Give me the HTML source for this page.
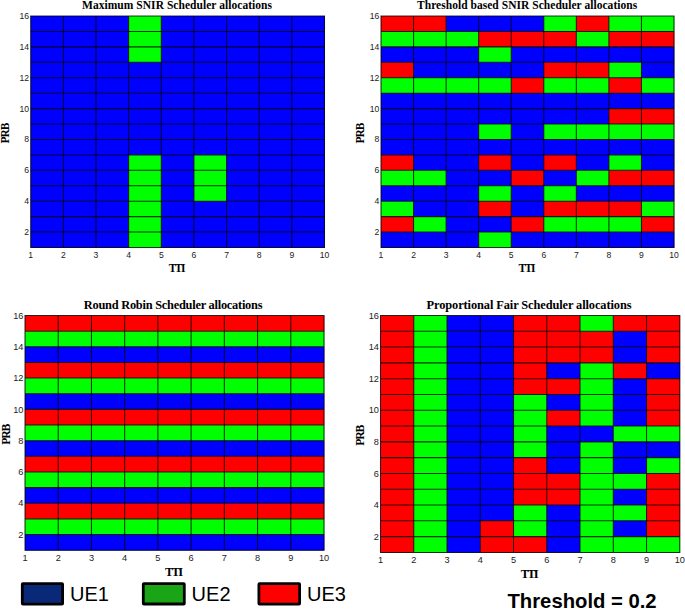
<!DOCTYPE html>
<html><head><meta charset="utf-8"><title>Scheduler allocations</title>
<style>
html,body{margin:0;padding:0;background:#fff;}
svg{display:block;}
.tk{font-family:"Liberation Sans",Arial,Helvetica,sans-serif;fill:#222;}
.ti{font-family:"Liberation Serif","Times New Roman",serif;font-weight:bold;fill:#000;}
.ax{font-family:"Liberation Serif","Times New Roman",serif;font-weight:bold;fill:#000;}
.lg{font-family:"Liberation Sans",Arial,Helvetica,sans-serif;font-size:20px;fill:#000;}
.th{font-family:"Liberation Sans",Arial,Helvetica,sans-serif;font-size:20.25px;font-weight:bold;fill:#000;}
</style></head><body>
<svg width="685" height="612" viewBox="0 0 685 612">
<rect x="0" y="0" width="685" height="612" fill="#ffffff"/>

<g>
<rect x="30.70" y="16.00" width="98.23" height="15.73" fill="#0000ff"/>
<rect x="128.63" y="16.00" width="32.94" height="15.73" fill="#00ff00"/>
<rect x="161.28" y="16.00" width="163.52" height="15.73" fill="#0000ff"/>
<rect x="30.70" y="31.43" width="98.23" height="15.73" fill="#0000ff"/>
<rect x="128.63" y="31.43" width="32.94" height="15.73" fill="#00ff00"/>
<rect x="161.28" y="31.43" width="163.52" height="15.73" fill="#0000ff"/>
<rect x="30.70" y="46.87" width="98.23" height="15.73" fill="#0000ff"/>
<rect x="128.63" y="46.87" width="32.94" height="15.73" fill="#00ff00"/>
<rect x="161.28" y="46.87" width="163.52" height="15.73" fill="#0000ff"/>
<rect x="30.70" y="62.30" width="294.10" height="15.73" fill="#0000ff"/>
<rect x="30.70" y="77.73" width="294.10" height="15.73" fill="#0000ff"/>
<rect x="30.70" y="93.17" width="294.10" height="15.73" fill="#0000ff"/>
<rect x="30.70" y="108.60" width="294.10" height="15.73" fill="#0000ff"/>
<rect x="30.70" y="124.03" width="294.10" height="15.73" fill="#0000ff"/>
<rect x="30.70" y="139.47" width="294.10" height="15.73" fill="#0000ff"/>
<rect x="30.70" y="154.90" width="98.23" height="15.73" fill="#0000ff"/>
<rect x="128.63" y="154.90" width="32.94" height="15.73" fill="#00ff00"/>
<rect x="161.28" y="154.90" width="32.94" height="15.73" fill="#0000ff"/>
<rect x="193.92" y="154.90" width="32.94" height="15.73" fill="#00ff00"/>
<rect x="226.57" y="154.90" width="98.23" height="15.73" fill="#0000ff"/>
<rect x="30.70" y="170.33" width="98.23" height="15.73" fill="#0000ff"/>
<rect x="128.63" y="170.33" width="32.94" height="15.73" fill="#00ff00"/>
<rect x="161.28" y="170.33" width="32.94" height="15.73" fill="#0000ff"/>
<rect x="193.92" y="170.33" width="32.94" height="15.73" fill="#00ff00"/>
<rect x="226.57" y="170.33" width="98.23" height="15.73" fill="#0000ff"/>
<rect x="30.70" y="185.77" width="98.23" height="15.73" fill="#0000ff"/>
<rect x="128.63" y="185.77" width="32.94" height="15.73" fill="#00ff00"/>
<rect x="161.28" y="185.77" width="32.94" height="15.73" fill="#0000ff"/>
<rect x="193.92" y="185.77" width="32.94" height="15.73" fill="#00ff00"/>
<rect x="226.57" y="185.77" width="98.23" height="15.73" fill="#0000ff"/>
<rect x="30.70" y="201.20" width="98.23" height="15.73" fill="#0000ff"/>
<rect x="128.63" y="201.20" width="32.94" height="15.73" fill="#00ff00"/>
<rect x="161.28" y="201.20" width="163.52" height="15.73" fill="#0000ff"/>
<rect x="30.70" y="216.63" width="98.23" height="15.73" fill="#0000ff"/>
<rect x="128.63" y="216.63" width="32.94" height="15.73" fill="#00ff00"/>
<rect x="161.28" y="216.63" width="163.52" height="15.73" fill="#0000ff"/>
<rect x="30.70" y="232.07" width="98.23" height="15.73" fill="#0000ff"/>
<rect x="128.63" y="232.07" width="32.94" height="15.73" fill="#00ff00"/>
<rect x="161.28" y="232.07" width="163.52" height="15.73" fill="#0000ff"/>
<path d="M30.70 15.50V248.00M63.34 15.50V248.00M95.99 15.50V248.00M128.63 15.50V248.00M161.28 15.50V248.00M193.92 15.50V248.00M226.57 15.50V248.00M259.21 15.50V248.00M291.86 15.50V248.00M324.50 15.50V248.00M30.20 16.00H325.00M30.20 31.43H325.00M30.20 46.87H325.00M30.20 62.30H325.00M30.20 77.73H325.00M30.20 93.17H325.00M30.20 108.60H325.00M30.20 124.03H325.00M30.20 139.47H325.00M30.20 154.90H325.00M30.20 170.33H325.00M30.20 185.77H325.00M30.20 201.20H325.00M30.20 216.63H325.00M30.20 232.07H325.00M30.20 247.50H325.00" stroke="#000" stroke-width="1.05" fill="none" opacity="0.8"/>
<text class="tk" font-size="8.6" x="30.70" y="257.90" text-anchor="middle">1</text>
<text class="tk" font-size="8.6" x="63.34" y="257.90" text-anchor="middle">2</text>
<text class="tk" font-size="8.6" x="95.99" y="257.90" text-anchor="middle">3</text>
<text class="tk" font-size="8.6" x="128.63" y="257.90" text-anchor="middle">4</text>
<text class="tk" font-size="8.6" x="161.28" y="257.90" text-anchor="middle">5</text>
<text class="tk" font-size="8.6" x="193.92" y="257.90" text-anchor="middle">6</text>
<text class="tk" font-size="8.6" x="226.57" y="257.90" text-anchor="middle">7</text>
<text class="tk" font-size="8.6" x="259.21" y="257.90" text-anchor="middle">8</text>
<text class="tk" font-size="8.6" x="291.86" y="257.90" text-anchor="middle">9</text>
<text class="tk" font-size="8.6" x="324.50" y="257.90" text-anchor="middle">10</text>
<text class="tk" font-size="8.6" x="29.10" y="235.07" text-anchor="end">2</text>
<text class="tk" font-size="8.6" x="29.10" y="204.20" text-anchor="end">4</text>
<text class="tk" font-size="8.6" x="29.10" y="173.33" text-anchor="end">6</text>
<text class="tk" font-size="8.6" x="29.10" y="142.47" text-anchor="end">8</text>
<text class="tk" font-size="8.6" x="29.10" y="111.60" text-anchor="end">10</text>
<text class="tk" font-size="8.6" x="29.10" y="80.73" text-anchor="end">12</text>
<text class="tk" font-size="8.6" x="29.10" y="49.87" text-anchor="end">14</text>
<text class="tk" font-size="8.6" x="29.10" y="19.00" text-anchor="end">16</text>
<text class="ti" font-size="11.5" x="82.00" y="9.00" textLength="190.0" lengthAdjust="spacing">Maximum SNIR Scheduler allocations</text>
<text class="ax" font-size="11.5" x="168.70" y="271.80" textLength="16.8" lengthAdjust="spacing">TTI</text>
<text class="ax" font-size="11.5" transform="translate(9.40 133.05) rotate(-90)" x="-10.40" y="0" textLength="20.8" lengthAdjust="spacing">PRB</text>
</g>
<g>
<rect x="381.00" y="16.00" width="65.41" height="15.73" fill="#ff0000"/>
<rect x="446.11" y="16.00" width="97.97" height="15.73" fill="#0000ff"/>
<rect x="543.78" y="16.00" width="32.86" height="15.73" fill="#00ff00"/>
<rect x="576.33" y="16.00" width="32.86" height="15.73" fill="#ff0000"/>
<rect x="608.89" y="16.00" width="65.41" height="15.73" fill="#00ff00"/>
<rect x="381.00" y="31.43" width="97.97" height="15.73" fill="#00ff00"/>
<rect x="478.67" y="31.43" width="97.97" height="15.73" fill="#ff0000"/>
<rect x="576.33" y="31.43" width="32.86" height="15.73" fill="#00ff00"/>
<rect x="608.89" y="31.43" width="65.41" height="15.73" fill="#ff0000"/>
<rect x="381.00" y="46.87" width="97.97" height="15.73" fill="#0000ff"/>
<rect x="478.67" y="46.87" width="32.86" height="15.73" fill="#00ff00"/>
<rect x="511.22" y="46.87" width="163.08" height="15.73" fill="#0000ff"/>
<rect x="381.00" y="62.30" width="32.86" height="15.73" fill="#ff0000"/>
<rect x="413.56" y="62.30" width="130.52" height="15.73" fill="#0000ff"/>
<rect x="543.78" y="62.30" width="65.41" height="15.73" fill="#ff0000"/>
<rect x="608.89" y="62.30" width="32.86" height="15.73" fill="#00ff00"/>
<rect x="641.44" y="62.30" width="32.86" height="15.73" fill="#0000ff"/>
<rect x="381.00" y="77.73" width="130.52" height="15.73" fill="#00ff00"/>
<rect x="511.22" y="77.73" width="32.86" height="15.73" fill="#ff0000"/>
<rect x="543.78" y="77.73" width="65.41" height="15.73" fill="#00ff00"/>
<rect x="608.89" y="77.73" width="32.86" height="15.73" fill="#ff0000"/>
<rect x="641.44" y="77.73" width="32.86" height="15.73" fill="#00ff00"/>
<rect x="381.00" y="93.17" width="293.30" height="15.73" fill="#0000ff"/>
<rect x="381.00" y="108.60" width="228.19" height="15.73" fill="#0000ff"/>
<rect x="608.89" y="108.60" width="65.41" height="15.73" fill="#ff0000"/>
<rect x="381.00" y="124.03" width="97.97" height="15.73" fill="#0000ff"/>
<rect x="478.67" y="124.03" width="32.86" height="15.73" fill="#00ff00"/>
<rect x="511.22" y="124.03" width="32.86" height="15.73" fill="#0000ff"/>
<rect x="543.78" y="124.03" width="130.52" height="15.73" fill="#00ff00"/>
<rect x="381.00" y="139.47" width="293.30" height="15.73" fill="#0000ff"/>
<rect x="381.00" y="154.90" width="32.86" height="15.73" fill="#ff0000"/>
<rect x="413.56" y="154.90" width="65.41" height="15.73" fill="#0000ff"/>
<rect x="478.67" y="154.90" width="32.86" height="15.73" fill="#ff0000"/>
<rect x="511.22" y="154.90" width="32.86" height="15.73" fill="#0000ff"/>
<rect x="543.78" y="154.90" width="32.86" height="15.73" fill="#ff0000"/>
<rect x="576.33" y="154.90" width="32.86" height="15.73" fill="#0000ff"/>
<rect x="608.89" y="154.90" width="32.86" height="15.73" fill="#00ff00"/>
<rect x="641.44" y="154.90" width="32.86" height="15.73" fill="#0000ff"/>
<rect x="381.00" y="170.33" width="65.41" height="15.73" fill="#00ff00"/>
<rect x="446.11" y="170.33" width="65.41" height="15.73" fill="#0000ff"/>
<rect x="511.22" y="170.33" width="32.86" height="15.73" fill="#ff0000"/>
<rect x="543.78" y="170.33" width="32.86" height="15.73" fill="#0000ff"/>
<rect x="576.33" y="170.33" width="32.86" height="15.73" fill="#00ff00"/>
<rect x="608.89" y="170.33" width="65.41" height="15.73" fill="#ff0000"/>
<rect x="381.00" y="185.77" width="97.97" height="15.73" fill="#0000ff"/>
<rect x="478.67" y="185.77" width="32.86" height="15.73" fill="#00ff00"/>
<rect x="511.22" y="185.77" width="32.86" height="15.73" fill="#0000ff"/>
<rect x="543.78" y="185.77" width="32.86" height="15.73" fill="#00ff00"/>
<rect x="576.33" y="185.77" width="97.97" height="15.73" fill="#0000ff"/>
<rect x="381.00" y="201.20" width="32.86" height="15.73" fill="#00ff00"/>
<rect x="413.56" y="201.20" width="65.41" height="15.73" fill="#0000ff"/>
<rect x="478.67" y="201.20" width="32.86" height="15.73" fill="#ff0000"/>
<rect x="511.22" y="201.20" width="32.86" height="15.73" fill="#0000ff"/>
<rect x="543.78" y="201.20" width="97.97" height="15.73" fill="#ff0000"/>
<rect x="641.44" y="201.20" width="32.86" height="15.73" fill="#00ff00"/>
<rect x="381.00" y="216.63" width="32.86" height="15.73" fill="#ff0000"/>
<rect x="413.56" y="216.63" width="32.86" height="15.73" fill="#00ff00"/>
<rect x="446.11" y="216.63" width="65.41" height="15.73" fill="#0000ff"/>
<rect x="511.22" y="216.63" width="32.86" height="15.73" fill="#ff0000"/>
<rect x="543.78" y="216.63" width="97.97" height="15.73" fill="#00ff00"/>
<rect x="641.44" y="216.63" width="32.86" height="15.73" fill="#ff0000"/>
<rect x="381.00" y="232.07" width="97.97" height="15.73" fill="#0000ff"/>
<rect x="478.67" y="232.07" width="32.86" height="15.73" fill="#00ff00"/>
<rect x="511.22" y="232.07" width="163.08" height="15.73" fill="#0000ff"/>
<path d="M381.00 15.50V248.00M413.56 15.50V248.00M446.11 15.50V248.00M478.67 15.50V248.00M511.22 15.50V248.00M543.78 15.50V248.00M576.33 15.50V248.00M608.89 15.50V248.00M641.44 15.50V248.00M674.00 15.50V248.00M380.50 16.00H674.50M380.50 31.43H674.50M380.50 46.87H674.50M380.50 62.30H674.50M380.50 77.73H674.50M380.50 93.17H674.50M380.50 108.60H674.50M380.50 124.03H674.50M380.50 139.47H674.50M380.50 154.90H674.50M380.50 170.33H674.50M380.50 185.77H674.50M380.50 201.20H674.50M380.50 216.63H674.50M380.50 232.07H674.50M380.50 247.50H674.50" stroke="#000" stroke-width="1.05" fill="none" opacity="0.8"/>
<text class="tk" font-size="8.6" x="381.00" y="257.90" text-anchor="middle">1</text>
<text class="tk" font-size="8.6" x="413.56" y="257.90" text-anchor="middle">2</text>
<text class="tk" font-size="8.6" x="446.11" y="257.90" text-anchor="middle">3</text>
<text class="tk" font-size="8.6" x="478.67" y="257.90" text-anchor="middle">4</text>
<text class="tk" font-size="8.6" x="511.22" y="257.90" text-anchor="middle">5</text>
<text class="tk" font-size="8.6" x="543.78" y="257.90" text-anchor="middle">6</text>
<text class="tk" font-size="8.6" x="576.33" y="257.90" text-anchor="middle">7</text>
<text class="tk" font-size="8.6" x="608.89" y="257.90" text-anchor="middle">8</text>
<text class="tk" font-size="8.6" x="641.44" y="257.90" text-anchor="middle">9</text>
<text class="tk" font-size="8.6" x="674.00" y="257.90" text-anchor="middle">10</text>
<text class="tk" font-size="8.6" x="379.40" y="235.07" text-anchor="end">2</text>
<text class="tk" font-size="8.6" x="379.40" y="204.20" text-anchor="end">4</text>
<text class="tk" font-size="8.6" x="379.40" y="173.33" text-anchor="end">6</text>
<text class="tk" font-size="8.6" x="379.40" y="142.47" text-anchor="end">8</text>
<text class="tk" font-size="8.6" x="379.40" y="111.60" text-anchor="end">10</text>
<text class="tk" font-size="8.6" x="379.40" y="80.73" text-anchor="end">12</text>
<text class="tk" font-size="8.6" x="379.40" y="49.87" text-anchor="end">14</text>
<text class="tk" font-size="8.6" x="379.40" y="19.00" text-anchor="end">16</text>
<text class="ti" font-size="11.5" x="417.00" y="9.00" textLength="220.2" lengthAdjust="spacing">Threshold based SNIR Scheduler allocations</text>
<text class="ax" font-size="11.5" x="518.60" y="271.80" textLength="16.8" lengthAdjust="spacing">TTI</text>
<text class="ax" font-size="11.5" transform="translate(363.70 133.05) rotate(-90)" x="-10.40" y="0" textLength="20.8" lengthAdjust="spacing">PRB</text>
</g>
<g>
<rect x="25.00" y="315.50" width="299.30" height="15.95" fill="#ff0000"/>
<rect x="25.00" y="331.15" width="299.30" height="15.95" fill="#00ff00"/>
<rect x="25.00" y="346.79" width="299.30" height="15.95" fill="#0000ff"/>
<rect x="25.00" y="362.44" width="299.30" height="15.95" fill="#ff0000"/>
<rect x="25.00" y="378.09" width="299.30" height="15.95" fill="#00ff00"/>
<rect x="25.00" y="393.73" width="299.30" height="15.95" fill="#0000ff"/>
<rect x="25.00" y="409.38" width="299.30" height="15.95" fill="#ff0000"/>
<rect x="25.00" y="425.03" width="299.30" height="15.95" fill="#00ff00"/>
<rect x="25.00" y="440.67" width="299.30" height="15.95" fill="#0000ff"/>
<rect x="25.00" y="456.32" width="299.30" height="15.95" fill="#ff0000"/>
<rect x="25.00" y="471.97" width="299.30" height="15.95" fill="#00ff00"/>
<rect x="25.00" y="487.61" width="299.30" height="15.95" fill="#0000ff"/>
<rect x="25.00" y="503.26" width="299.30" height="15.95" fill="#ff0000"/>
<rect x="25.00" y="518.91" width="299.30" height="15.95" fill="#00ff00"/>
<rect x="25.00" y="534.55" width="299.30" height="15.95" fill="#0000ff"/>
<path d="M25.00 315.00V550.70M58.22 315.00V550.70M91.44 315.00V550.70M124.67 315.00V550.70M157.89 315.00V550.70M191.11 315.00V550.70M224.33 315.00V550.70M257.56 315.00V550.70M290.78 315.00V550.70M324.00 315.00V550.70M24.50 315.50H324.50M24.50 331.15H324.50M24.50 346.79H324.50M24.50 362.44H324.50M24.50 378.09H324.50M24.50 393.73H324.50M24.50 409.38H324.50M24.50 425.03H324.50M24.50 440.67H324.50M24.50 456.32H324.50M24.50 471.97H324.50M24.50 487.61H324.50M24.50 503.26H324.50M24.50 518.91H324.50M24.50 534.55H324.50M24.50 550.20H324.50" stroke="#000" stroke-width="1.05" fill="none" opacity="0.8"/>
<text class="tk" font-size="9.2" x="25.00" y="561.10" text-anchor="middle">1</text>
<text class="tk" font-size="9.2" x="58.22" y="561.10" text-anchor="middle">2</text>
<text class="tk" font-size="9.2" x="91.44" y="561.10" text-anchor="middle">3</text>
<text class="tk" font-size="9.2" x="124.67" y="561.10" text-anchor="middle">4</text>
<text class="tk" font-size="9.2" x="157.89" y="561.10" text-anchor="middle">5</text>
<text class="tk" font-size="9.2" x="191.11" y="561.10" text-anchor="middle">6</text>
<text class="tk" font-size="9.2" x="224.33" y="561.10" text-anchor="middle">7</text>
<text class="tk" font-size="9.2" x="257.56" y="561.10" text-anchor="middle">8</text>
<text class="tk" font-size="9.2" x="290.78" y="561.10" text-anchor="middle">9</text>
<text class="tk" font-size="9.2" x="324.00" y="561.10" text-anchor="middle">10</text>
<text class="tk" font-size="9.2" x="23.40" y="537.76" text-anchor="end">2</text>
<text class="tk" font-size="9.2" x="23.40" y="506.47" text-anchor="end">4</text>
<text class="tk" font-size="9.2" x="23.40" y="475.18" text-anchor="end">6</text>
<text class="tk" font-size="9.2" x="23.40" y="443.88" text-anchor="end">8</text>
<text class="tk" font-size="9.2" x="23.40" y="412.59" text-anchor="end">10</text>
<text class="tk" font-size="9.2" x="23.40" y="381.30" text-anchor="end">12</text>
<text class="tk" font-size="9.2" x="23.40" y="350.00" text-anchor="end">14</text>
<text class="tk" font-size="9.2" x="23.40" y="318.71" text-anchor="end">16</text>
<text class="ti" font-size="12.4" x="83.80" y="308.60" textLength="178.7" lengthAdjust="spacing">Round Robin Scheduler allocations</text>
<text class="ax" font-size="12.5" x="165.00" y="575.60" textLength="18.0" lengthAdjust="spacing">TTI</text>
<text class="ax" font-size="11.8" transform="translate(10.00 434.15) rotate(-90)" x="-10.60" y="0" textLength="21.2" lengthAdjust="spacing">PRB</text>
</g>
<g>
<rect x="380.50" y="315.50" width="33.56" height="16.09" fill="#ff0000"/>
<rect x="413.76" y="315.50" width="33.56" height="16.09" fill="#00ff00"/>
<rect x="447.01" y="315.50" width="66.81" height="16.09" fill="#0000ff"/>
<rect x="513.52" y="315.50" width="66.81" height="16.09" fill="#ff0000"/>
<rect x="580.03" y="315.50" width="33.56" height="16.09" fill="#00ff00"/>
<rect x="613.29" y="315.50" width="66.81" height="16.09" fill="#ff0000"/>
<rect x="380.50" y="331.29" width="33.56" height="16.09" fill="#ff0000"/>
<rect x="413.76" y="331.29" width="33.56" height="16.09" fill="#00ff00"/>
<rect x="447.01" y="331.29" width="66.81" height="16.09" fill="#0000ff"/>
<rect x="513.52" y="331.29" width="100.07" height="16.09" fill="#ff0000"/>
<rect x="613.29" y="331.29" width="33.56" height="16.09" fill="#0000ff"/>
<rect x="646.54" y="331.29" width="33.56" height="16.09" fill="#ff0000"/>
<rect x="380.50" y="347.09" width="33.56" height="16.09" fill="#ff0000"/>
<rect x="413.76" y="347.09" width="33.56" height="16.09" fill="#00ff00"/>
<rect x="447.01" y="347.09" width="66.81" height="16.09" fill="#0000ff"/>
<rect x="513.52" y="347.09" width="100.07" height="16.09" fill="#ff0000"/>
<rect x="613.29" y="347.09" width="33.56" height="16.09" fill="#0000ff"/>
<rect x="646.54" y="347.09" width="33.56" height="16.09" fill="#ff0000"/>
<rect x="380.50" y="362.88" width="33.56" height="16.09" fill="#ff0000"/>
<rect x="413.76" y="362.88" width="33.56" height="16.09" fill="#00ff00"/>
<rect x="447.01" y="362.88" width="66.81" height="16.09" fill="#0000ff"/>
<rect x="513.52" y="362.88" width="33.56" height="16.09" fill="#ff0000"/>
<rect x="546.78" y="362.88" width="33.56" height="16.09" fill="#0000ff"/>
<rect x="580.03" y="362.88" width="33.56" height="16.09" fill="#00ff00"/>
<rect x="613.29" y="362.88" width="33.56" height="16.09" fill="#ff0000"/>
<rect x="646.54" y="362.88" width="33.56" height="16.09" fill="#0000ff"/>
<rect x="380.50" y="378.67" width="33.56" height="16.09" fill="#ff0000"/>
<rect x="413.76" y="378.67" width="33.56" height="16.09" fill="#00ff00"/>
<rect x="447.01" y="378.67" width="66.81" height="16.09" fill="#0000ff"/>
<rect x="513.52" y="378.67" width="66.81" height="16.09" fill="#ff0000"/>
<rect x="580.03" y="378.67" width="33.56" height="16.09" fill="#00ff00"/>
<rect x="613.29" y="378.67" width="33.56" height="16.09" fill="#0000ff"/>
<rect x="646.54" y="378.67" width="33.56" height="16.09" fill="#ff0000"/>
<rect x="380.50" y="394.47" width="33.56" height="16.09" fill="#ff0000"/>
<rect x="413.76" y="394.47" width="33.56" height="16.09" fill="#00ff00"/>
<rect x="447.01" y="394.47" width="66.81" height="16.09" fill="#0000ff"/>
<rect x="513.52" y="394.47" width="33.56" height="16.09" fill="#00ff00"/>
<rect x="546.78" y="394.47" width="33.56" height="16.09" fill="#0000ff"/>
<rect x="580.03" y="394.47" width="33.56" height="16.09" fill="#00ff00"/>
<rect x="613.29" y="394.47" width="33.56" height="16.09" fill="#0000ff"/>
<rect x="646.54" y="394.47" width="33.56" height="16.09" fill="#ff0000"/>
<rect x="380.50" y="410.26" width="33.56" height="16.09" fill="#ff0000"/>
<rect x="413.76" y="410.26" width="33.56" height="16.09" fill="#00ff00"/>
<rect x="447.01" y="410.26" width="66.81" height="16.09" fill="#0000ff"/>
<rect x="513.52" y="410.26" width="33.56" height="16.09" fill="#00ff00"/>
<rect x="546.78" y="410.26" width="33.56" height="16.09" fill="#ff0000"/>
<rect x="580.03" y="410.26" width="33.56" height="16.09" fill="#00ff00"/>
<rect x="613.29" y="410.26" width="33.56" height="16.09" fill="#0000ff"/>
<rect x="646.54" y="410.26" width="33.56" height="16.09" fill="#ff0000"/>
<rect x="380.50" y="426.05" width="33.56" height="16.09" fill="#ff0000"/>
<rect x="413.76" y="426.05" width="33.56" height="16.09" fill="#00ff00"/>
<rect x="447.01" y="426.05" width="66.81" height="16.09" fill="#0000ff"/>
<rect x="513.52" y="426.05" width="33.56" height="16.09" fill="#00ff00"/>
<rect x="546.78" y="426.05" width="66.81" height="16.09" fill="#0000ff"/>
<rect x="613.29" y="426.05" width="66.81" height="16.09" fill="#00ff00"/>
<rect x="380.50" y="441.85" width="33.56" height="16.09" fill="#ff0000"/>
<rect x="413.76" y="441.85" width="33.56" height="16.09" fill="#00ff00"/>
<rect x="447.01" y="441.85" width="66.81" height="16.09" fill="#0000ff"/>
<rect x="513.52" y="441.85" width="33.56" height="16.09" fill="#00ff00"/>
<rect x="546.78" y="441.85" width="33.56" height="16.09" fill="#0000ff"/>
<rect x="580.03" y="441.85" width="33.56" height="16.09" fill="#00ff00"/>
<rect x="613.29" y="441.85" width="66.81" height="16.09" fill="#0000ff"/>
<rect x="380.50" y="457.64" width="33.56" height="16.09" fill="#ff0000"/>
<rect x="413.76" y="457.64" width="33.56" height="16.09" fill="#00ff00"/>
<rect x="447.01" y="457.64" width="66.81" height="16.09" fill="#0000ff"/>
<rect x="513.52" y="457.64" width="33.56" height="16.09" fill="#ff0000"/>
<rect x="546.78" y="457.64" width="33.56" height="16.09" fill="#0000ff"/>
<rect x="580.03" y="457.64" width="33.56" height="16.09" fill="#00ff00"/>
<rect x="613.29" y="457.64" width="33.56" height="16.09" fill="#0000ff"/>
<rect x="646.54" y="457.64" width="33.56" height="16.09" fill="#00ff00"/>
<rect x="380.50" y="473.43" width="33.56" height="16.09" fill="#ff0000"/>
<rect x="413.76" y="473.43" width="33.56" height="16.09" fill="#00ff00"/>
<rect x="447.01" y="473.43" width="66.81" height="16.09" fill="#0000ff"/>
<rect x="513.52" y="473.43" width="66.81" height="16.09" fill="#ff0000"/>
<rect x="580.03" y="473.43" width="66.81" height="16.09" fill="#00ff00"/>
<rect x="646.54" y="473.43" width="33.56" height="16.09" fill="#ff0000"/>
<rect x="380.50" y="489.23" width="33.56" height="16.09" fill="#ff0000"/>
<rect x="413.76" y="489.23" width="33.56" height="16.09" fill="#00ff00"/>
<rect x="447.01" y="489.23" width="66.81" height="16.09" fill="#0000ff"/>
<rect x="513.52" y="489.23" width="66.81" height="16.09" fill="#ff0000"/>
<rect x="580.03" y="489.23" width="33.56" height="16.09" fill="#00ff00"/>
<rect x="613.29" y="489.23" width="33.56" height="16.09" fill="#0000ff"/>
<rect x="646.54" y="489.23" width="33.56" height="16.09" fill="#ff0000"/>
<rect x="380.50" y="505.02" width="33.56" height="16.09" fill="#ff0000"/>
<rect x="413.76" y="505.02" width="33.56" height="16.09" fill="#00ff00"/>
<rect x="447.01" y="505.02" width="66.81" height="16.09" fill="#0000ff"/>
<rect x="513.52" y="505.02" width="33.56" height="16.09" fill="#00ff00"/>
<rect x="546.78" y="505.02" width="33.56" height="16.09" fill="#0000ff"/>
<rect x="580.03" y="505.02" width="66.81" height="16.09" fill="#00ff00"/>
<rect x="646.54" y="505.02" width="33.56" height="16.09" fill="#ff0000"/>
<rect x="380.50" y="520.81" width="33.56" height="16.09" fill="#ff0000"/>
<rect x="413.76" y="520.81" width="33.56" height="16.09" fill="#00ff00"/>
<rect x="447.01" y="520.81" width="33.56" height="16.09" fill="#0000ff"/>
<rect x="480.27" y="520.81" width="33.56" height="16.09" fill="#ff0000"/>
<rect x="513.52" y="520.81" width="33.56" height="16.09" fill="#00ff00"/>
<rect x="546.78" y="520.81" width="33.56" height="16.09" fill="#0000ff"/>
<rect x="580.03" y="520.81" width="33.56" height="16.09" fill="#00ff00"/>
<rect x="613.29" y="520.81" width="33.56" height="16.09" fill="#0000ff"/>
<rect x="646.54" y="520.81" width="33.56" height="16.09" fill="#ff0000"/>
<rect x="380.50" y="536.61" width="33.56" height="16.09" fill="#ff0000"/>
<rect x="413.76" y="536.61" width="33.56" height="16.09" fill="#00ff00"/>
<rect x="447.01" y="536.61" width="33.56" height="16.09" fill="#0000ff"/>
<rect x="480.27" y="536.61" width="66.81" height="16.09" fill="#ff0000"/>
<rect x="546.78" y="536.61" width="33.56" height="16.09" fill="#0000ff"/>
<rect x="580.03" y="536.61" width="100.07" height="16.09" fill="#00ff00"/>
<path d="M380.50 315.00V552.90M413.76 315.00V552.90M447.01 315.00V552.90M480.27 315.00V552.90M513.52 315.00V552.90M546.78 315.00V552.90M580.03 315.00V552.90M613.29 315.00V552.90M646.54 315.00V552.90M679.80 315.00V552.90M380.00 315.50H680.30M380.00 331.29H680.30M380.00 347.09H680.30M380.00 362.88H680.30M380.00 378.67H680.30M380.00 394.47H680.30M380.00 410.26H680.30M380.00 426.05H680.30M380.00 441.85H680.30M380.00 457.64H680.30M380.00 473.43H680.30M380.00 489.23H680.30M380.00 505.02H680.30M380.00 520.81H680.30M380.00 536.61H680.30M380.00 552.40H680.30" stroke="#000" stroke-width="1.05" fill="none" opacity="0.8"/>
<text class="tk" font-size="9.2" x="380.50" y="563.30" text-anchor="middle">1</text>
<text class="tk" font-size="9.2" x="413.76" y="563.30" text-anchor="middle">2</text>
<text class="tk" font-size="9.2" x="447.01" y="563.30" text-anchor="middle">3</text>
<text class="tk" font-size="9.2" x="480.27" y="563.30" text-anchor="middle">4</text>
<text class="tk" font-size="9.2" x="513.52" y="563.30" text-anchor="middle">5</text>
<text class="tk" font-size="9.2" x="546.78" y="563.30" text-anchor="middle">6</text>
<text class="tk" font-size="9.2" x="580.03" y="563.30" text-anchor="middle">7</text>
<text class="tk" font-size="9.2" x="613.29" y="563.30" text-anchor="middle">8</text>
<text class="tk" font-size="9.2" x="646.54" y="563.30" text-anchor="middle">9</text>
<text class="tk" font-size="9.2" x="679.80" y="563.30" text-anchor="middle">10</text>
<text class="tk" font-size="9.2" x="378.90" y="539.82" text-anchor="end">2</text>
<text class="tk" font-size="9.2" x="378.90" y="508.23" text-anchor="end">4</text>
<text class="tk" font-size="9.2" x="378.90" y="476.64" text-anchor="end">6</text>
<text class="tk" font-size="9.2" x="378.90" y="445.06" text-anchor="end">8</text>
<text class="tk" font-size="9.2" x="378.90" y="413.47" text-anchor="end">10</text>
<text class="tk" font-size="9.2" x="378.90" y="381.88" text-anchor="end">12</text>
<text class="tk" font-size="9.2" x="378.90" y="350.30" text-anchor="end">14</text>
<text class="tk" font-size="9.2" x="378.90" y="318.71" text-anchor="end">16</text>
<text class="ti" font-size="12.4" x="426.60" y="308.80" textLength="204.9" lengthAdjust="spacing">Proportional Fair Scheduler allocations</text>
<text class="ax" font-size="12.5" x="520.65" y="577.80" textLength="18.0" lengthAdjust="spacing">TTI</text>
<text class="ax" font-size="11.8" transform="translate(363.90 435.25) rotate(-90)" x="-10.60" y="0" textLength="21.2" lengthAdjust="spacing">PRB</text>
</g>
<rect x="22.30" y="583.60" width="40.30" height="20.60" fill="#0a2878" stroke="#000" stroke-width="2.8" rx="0.6"/>
<text class="lg" x="70.00" y="601">UE1</text>
<rect x="143.30" y="583.60" width="41.00" height="20.40" fill="#1aa516" stroke="#000" stroke-width="2.8" rx="0.6"/>
<text class="lg" x="191.60" y="601">UE2</text>
<rect x="258.90" y="583.60" width="40.70" height="20.60" fill="#ff0000" stroke="#000" stroke-width="2.8" rx="0.6"/>
<text class="lg" x="307.00" y="601">UE3</text>
<text class="th" x="507.5" y="607.8">Threshold = 0.2</text>
</svg></body></html>
